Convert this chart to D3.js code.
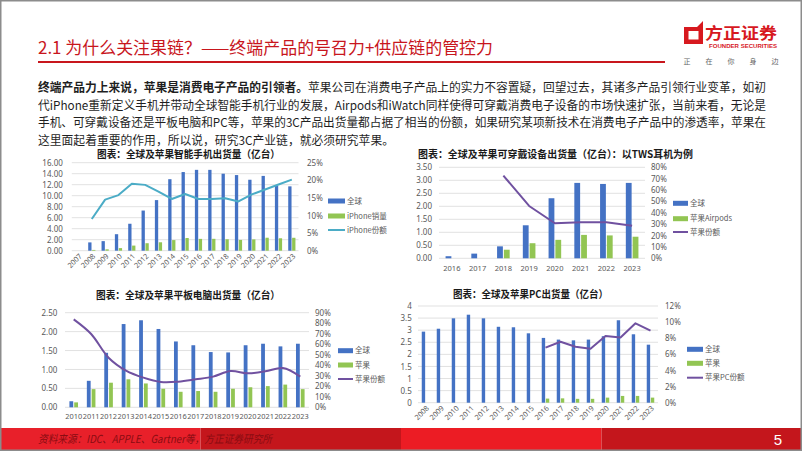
<!DOCTYPE html>
<html><head><meta charset="utf-8">
<script src="https://cdn.jsdelivr.net/npm/d3@7"></script>
<style>
html,body{margin:0;padding:0;background:#fff;}
svg{display:block;font-family:"Noto Sans CJK SC","Noto Sans",sans-serif;}
</style></head><body>
<svg id="s" width="802" height="451"></svg>
<script>
// ---------- DATA ----------
const phoneYears = ["2007","2008","2009","2010","2011","2012","2013","2014","2015","2016","2017","2018","2019","2020","2021","2022","2023"];
const phoneGlobal = [null,1.51,1.74,3.0,4.9,7.3,9.2,13.0,14.3,14.7,14.7,14.0,13.75,12.9,13.6,11.8,11.7];
const phoneApple  = [null,0.14,0.25,0.47,0.93,1.36,1.53,1.93,2.31,2.15,2.16,2.08,1.96,2.06,2.36,2.26,2.35];
const phoneShare  = [null,9.0,14.5,15.8,19.0,18.7,16.8,14.7,16.1,14.7,14.7,14.9,14.0,16.0,17.4,18.8,20.2];
const phoneLeftTicks = [0,2,4,6,8,10,12,14,16];
const phoneRightTicks = [0,5,10,15,20,25];
const phoneLegend = ["全球","iPhone销量","iPhone份额"];

const twsYears = ["2016","2017","2018","2019","2020","2021","2022","2023"];
const twsGlobal = [0.08,0.18,0.46,1.27,2.31,2.9,2.86,2.9];
const twsApple  = [null,null,0.33,0.58,0.71,0.9,0.88,0.83];
const twsShare  = [null,null,72.7,46.0,30.8,31.7,31.7,28.7];
const twsLeftTicks = [0,0.5,1,1.5,2,2.5,3,3.5];
const twsRightTicks = [0,10,20,30,40,50,60,70,80];
const twsLegend = ["全球","苹果Airpods","苹果份额"];

const tabYears = ["2010","2011","2012","2013","2014","2015","2016","2017","2018","2019","2020","2021","2022","2023"];
const tabGlobal = [0.16,0.70,1.44,2.2,2.3,2.07,1.74,1.64,1.46,1.45,1.64,1.68,1.61,1.68];
const tabApple  = [0.13,0.48,0.65,0.74,0.63,0.49,0.41,0.43,0.41,0.49,0.53,0.56,0.60,0.48];
const tabShare  = [83.6,69.7,47.2,34.9,28.2,24.1,24.4,26.6,29.2,34.5,32.3,34.2,37.4,29.2];
const tabLeftTicks = [0,0.5,1,1.5,2,2.5];
const tabRightTicks = [0,10,20,30,40,50,60,70,80,90];
const tabLegend = ["全球","苹果","苹果份额"];

const pcYears = ["2008","2009","2010","2011","2012","2013","2014","2015","2016","2017","2018","2019","2020","2021","2022","2023"];
const pcGlobal = [2.94,3.06,3.49,3.64,3.49,3.14,3.12,2.87,2.68,2.61,2.58,2.61,2.75,3.41,2.83,2.40];
const pcApple  = [null,null,null,null,null,null,null,null,0.17,0.18,0.16,0.16,0.21,0.28,0.28,0.21];
const pcShare  = [null,null,null,null,null,null,null,null,6.83,7.57,6.95,6.70,8.27,8.10,9.85,8.94];
const pcLeftTicks = [0,0.5,1,1.5,2,2.5,3,3.5,4];
const pcRightTicks = [0,2,4,6,8,10,12];
const pcLegend = ["全球","苹果","苹果PC份额"];

const slideTitle = "2.1 为什么关注果链？——终端产品的号召力+供应链的管控力";
const chartTitles = ["图表：全球及苹果智能手机出货量（亿台）","图表：全球及苹果可穿戴设备出货量（亿台）：以TWS耳机为例","图表：全球及苹果平板电脑出货量（亿台）","图表：全球及苹果PC出货量（亿台）"];
const paraBold = "终端产品力上来说，苹果是消费电子产品的引领者。";
const paraLines = [
 "苹果公司在消费电子产品上的实力不容置疑，回望过去，其诸多产品引领行业变革，如初",
 "代iPhone重新定义手机并带动全球智能手机行业的发展，Airpods和iWatch同样使得可穿戴消费电子设备的市场快速扩张，当前来看，无论是",
 "手机、可穿戴设备还是平板电脑和PC等，苹果的3C产品出货量都占据了相当的份额，如果研究某项新技术在消费电子产品中的渗透率，苹果在",
 "这里面起着重要的作用，所以说，研究3C产业链，就必须研究苹果。"
];
const sourceText = "资料来源：IDC、APPLE、Gartner等，方正证券研究所";
const pageNum = "5";

// ---------- DRAW ----------
const svg = d3.select("#s");
const BLUE = "#4472c4", GREEN = "#92c553", TEAL = "#4bacc6", PURPLE = "#7051a0", GRAY = "#595959";
svg.append("rect").attr("width",802).attr("height",451).attr("fill","#fff");

// header
svg.append("text").attr("x",38).attr("y",54).attr("fill","#c8161d").style("font-size","17px")
  .attr("textLength",455).attr("lengthAdjust","spacingAndGlyphs").text(slideTitle);
svg.append("rect").attr("x",38).attr("y",61).attr("width",627).attr("height",2).attr("fill","#c8161d");

// logo
const logo = svg.append("g");
logo.append("path").attr("fill-rule","evenodd").attr("fill","#d7191f")
  .attr("d","M684,27 H697 L703,21 V44 H684 Z M688.5,31 H698.5 V39.5 H688.5 Z");
logo.append("text").attr("x",705).attr("y",39).attr("fill","#d7191f").style("font-size","16px").style("font-weight","bold")
  .attr("textLength",72).attr("lengthAdjust","spacingAndGlyphs").text("方正证券");
logo.append("text").attr("x",709).attr("y",48).attr("fill","#d7191f").style("font-size","5.6px").style("font-weight","bold")
  .style("font-family","'Liberation Sans',sans-serif")
  .attr("textLength",68).attr("lengthAdjust","spacingAndGlyphs").text("FOUNDER SECURITIES");
["正","在","你","身","边"].forEach((c,i)=>{
  logo.append("text").attr("x",687+i*22).attr("y",64).attr("fill","#666").style("font-size","7px").attr("text-anchor","middle").text(c);
});

// paragraph
const pg = svg.append("g").attr("fill","#1f1f1f").style("font-size","12px");
const lineY = [92,109.5,127,144.5];
const t0 = pg.append("text").attr("x",38).attr("y",lineY[0]).attr("textLength",728).attr("lengthAdjust","spacingAndGlyphs");
t0.append("tspan").style("font-weight","bold").text(paraBold);
t0.append("tspan").text(paraLines[0]);
[1,2].forEach(i=>pg.append("text").attr("x",38).attr("y",lineY[i]).attr("textLength",728).attr("lengthAdjust","spacingAndGlyphs").text(paraLines[i]));
pg.append("text").attr("x",38).attr("y",lineY[3]).attr("textLength",356).attr("lengthAdjust","spacingAndGlyphs").text(paraLines[3]);

// chart titles
const titlePos = [[97,158,183],[418,158,275],[96,299,184],[453,298,155]];
titlePos.forEach((p,i)=>{
  svg.append("text").attr("x",p[0]).attr("y",p[1]).attr("fill","#1a1a1a").style("font-size","10.5px").style("font-weight","bold")
    .attr("textLength",p[2]).attr("lengthAdjust","spacingAndGlyphs").text(chartTitles[i]);
});

function drawChart(o){
  const g = svg.append("g");
  const x = d3.scaleBand().domain(o.years).range([o.x0,o.x1]);
  const yL = d3.scaleLinear().domain([0,o.lMax]).range([o.yB,o.yT]);
  const yR = d3.scaleLinear().domain([0,o.rMax]).range([o.yB,o.yT]);
  const cx = d => x(d)+x.bandwidth()/2;
  g.selectAll("line.grid").data(o.lTicks).join("line")
    .attr("x1",o.x0).attr("x2",o.x1).attr("y1",d=>yL(d)).attr("y2",d=>yL(d))
    .attr("stroke","#d9d9d9").attr("stroke-width",0.8);
  const aL = d3.axisLeft(yL).tickValues(o.lTicks).tickFormat(o.lFmt).tickSize(0).tickPadding(o.lPad);
  const gl = g.append("g").attr("transform",`translate(${o.x0},0)`).call(aL);
  gl.select(".domain").remove();
  gl.selectAll("text").attr("fill",GRAY).style("font-size",o.fs+"px").attr("font-family","'Noto Sans',sans-serif");
  const aR = d3.axisRight(yR).tickValues(o.rTicks).tickFormat(d=>d+"%").tickSize(0).tickPadding(o.rPad);
  const gr = g.append("g").attr("transform",`translate(${o.x1},0)`).call(aR);
  gr.select(".domain").remove();
  gr.selectAll("text").attr("fill",GRAY).style("font-size",o.fs+"px").attr("font-family","'Noto Sans',sans-serif");
  // x labels
  const xl = g.selectAll("text.xl").data(o.years).join("text").attr("fill",GRAY)
    .style("font-size",o.xfs+"px").attr("font-family","'Noto Sans',sans-serif");
  if(o.rot){
    xl.attr("text-anchor","end").attr("transform",d=>`translate(${cx(d)+o.rotDx},${o.yB+o.rotDy}) rotate(-45)`).text(d=>d);
  } else {
    xl.attr("text-anchor","middle").attr("x",d=>cx(d)).attr("y",o.yB+o.xDy).text(d=>d);
  }
  const bars = (vals,fill,off)=>{
    g.selectAll(null).data(o.years.map((y,i)=>({y,v:vals[i]})).filter(d=>d.v!=null)).join("rect")
      .attr("x",d=>cx(d.y)+off).attr("width",o.bw)
      .attr("y",d=>yL(d.v)).attr("height",d=>o.yB-yL(d.v)).attr("fill",fill);
  };
  bars(o.global,BLUE,-o.gap/2-o.bw);
  bars(o.apple,GREEN,o.gap/2);
  const line = d3.line().defined(d=>d.v!=null).x(d=>cx(d.y)).y(d=>yR(d.v)).curve(o.curve||d3.curveLinear);
  g.append("path").datum(o.years.map((y,i)=>({y,v:o.share[i]})).filter(d=>d.v!=null))
    .attr("d",line).attr("fill","none").attr("stroke",o.lineColor).attr("stroke-width",2).attr("stroke-linejoin","round");
  // legend
  const lg = g.append("g").attr("transform",`translate(${o.lgX},0)`);
  o.legend.forEach((t,i)=>{
    const yy = o.lgY[i];
    if(i<2) lg.append("rect").attr("x",0).attr("y",yy-2.5).attr("width",o.lgW).attr("height",5).attr("fill",i===0?BLUE:GREEN);
    else lg.append("line").attr("x1",0).attr("x2",o.lgW).attr("y1",yy).attr("y2",yy).attr("stroke",o.lineColor).attr("stroke-width",2);
    lg.append("text").attr("x",o.lgW+2).attr("y",yy).attr("dy","0.35em").attr("fill",GRAY).style("font-size","7.5px").text(t);
  });
}

drawChart({years:phoneYears,global:phoneGlobal,apple:phoneApple,share:phoneShare,
  x0:71.8,x1:298.5,yT:162.7,yB:250.7,lMax:16,rMax:25,lTicks:phoneLeftTicks,rTicks:phoneRightTicks,
  lFmt:d3.format(".2f"),lPad:9,rPad:8.5,fs:8,xfs:7.3,rot:true,rotDx:4,rotDy:6,
  bw:3.3,gap:0.6,lineColor:TEAL,legend:phoneLegend,lgX:328,lgY:[201,216,230],lgW:17});

drawChart({years:twsYears,global:twsGlobal,apple:twsApple,share:twsShare,
  x0:439,x1:645,yT:167.3,yB:258.3,lMax:3.5,rMax:80,lTicks:twsLeftTicks,rTicks:twsRightTicks,
  lFmt:d3.format(".2f"),lPad:7,rPad:6,fs:8,xfs:7.5,rot:false,xDy:13,
  bw:5.8,gap:1,lineColor:PURPLE,legend:twsLegend,lgX:673,lgY:[203.3,218.7,232],lgW:15});

drawChart({years:tabYears,global:tabGlobal,apple:tabApple,share:tabShare,
  x0:65,x1:309,yT:312.7,yB:407.3,lMax:2.5,rMax:90,lTicks:tabLeftTicks,rTicks:tabRightTicks,
  lFmt:d3.format(".2f"),lPad:7.7,rPad:6,fs:8,xfs:7.4,rot:false,xDy:12,
  bw:3.8,gap:1,lineColor:PURPLE,curve:d3.curveCatmullRom.alpha(0.5),legend:tabLegend,lgX:338,lgY:[350.7,365,379],lgW:15});

drawChart({years:pcYears,global:pcGlobal,apple:pcApple,share:pcShare,
  x0:418,x1:658,yT:306,yB:402.7,lMax:4,rMax:12,lTicks:pcLeftTicks,rTicks:pcRightTicks,
  lFmt:d3.format(""),lPad:6.3,rPad:7,fs:8,xfs:7.3,rot:true,rotDx:4,rotDy:6,
  bw:3.4,gap:0.7,lineColor:PURPLE,legend:pcLegend,lgX:687,lgY:[349.3,363.3,377.7],lgW:16});

// footer
const fc = ["#e8202a","#c4161c","#ec1c24","#c4161c"];
fc.forEach((c,i)=>svg.append("rect").attr("x",i*200.5).attr("y",428).attr("width",200.5).attr("height",22).attr("fill",c));
svg.append("text").attr("x",38).attr("y",443).attr("fill","#8a0c12").style("font-size","11px").style("font-style","italic")
  .attr("textLength",234).attr("lengthAdjust","spacingAndGlyphs").text(sourceText);
svg.append("text").attr("x",778).attr("y",445).attr("fill","#fff").attr("text-anchor","middle").style("font-size","15px")
  .attr("font-family","'Liberation Sans Narrow','Liberation Sans',sans-serif").text(pageNum);

// frame
svg.append("rect").attr("x",0.75).attr("y",0.75).attr("width",800.5).attr("height",449.5).attr("fill","none").attr("stroke","#8c8c8c").attr("stroke-width",1.5);
</script></body></html>
